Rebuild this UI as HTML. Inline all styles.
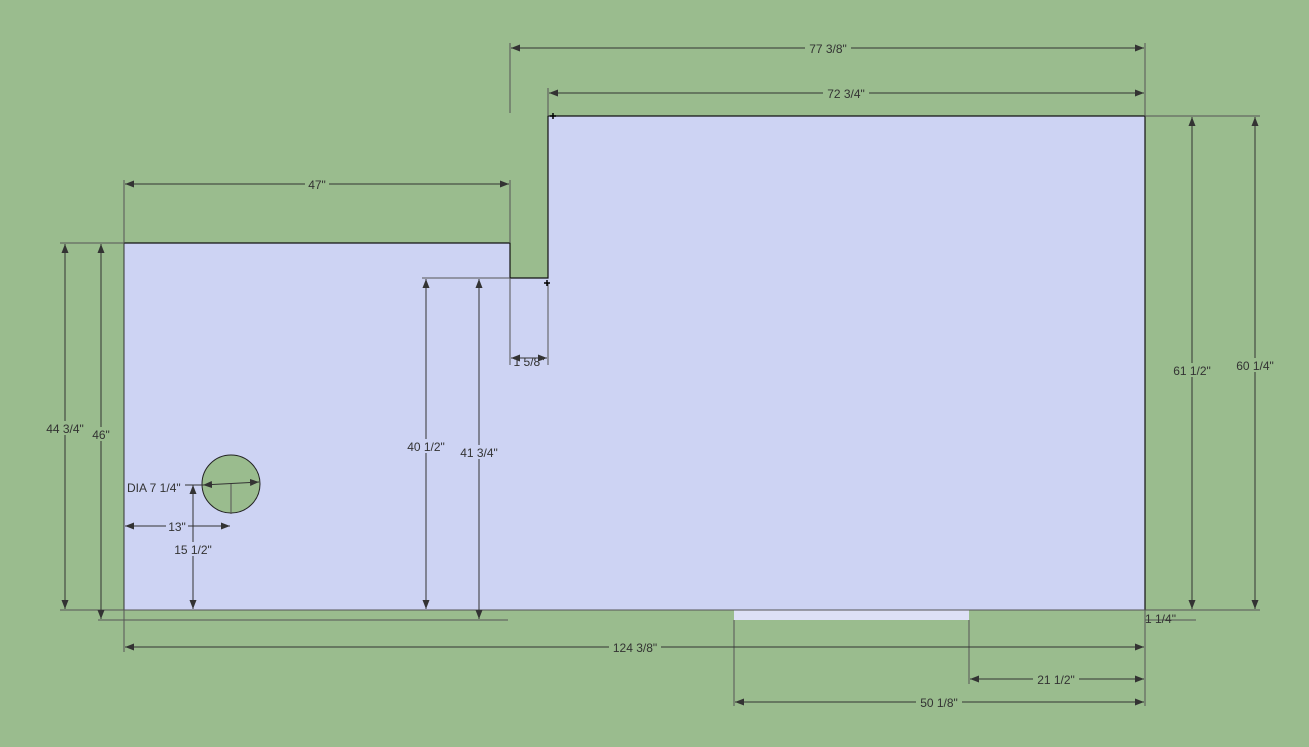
<html><body style="margin:0;background:#9abc8e">
<svg width="1309" height="747" xmlns="http://www.w3.org/2000/svg" font-family="Liberation Sans, sans-serif" font-size="12" fill="#333">
<defs>
<marker id="a" markerWidth="10" markerHeight="8" refX="9" refY="4" orient="auto-start-reverse" markerUnits="userSpaceOnUse"><path d="M0,0.5 L9,4 L0,7.5z" fill="#333"/></marker>
</defs>
<rect width="1309" height="747" fill="#9abc8e"/>
<polygon points="124,243 510,243 510,278 548,278 548,116 1145,116 1145,610 969,610 969,620 734,620 734,610 124,610" fill="#cdd3f3" stroke="none"/>
<rect x="734" y="610" width="235" height="10" fill="#dde0f6"/>
<polyline points="124,243 510,243 510,278 548,278 548,116 1145,116 1145,610" fill="none" stroke="#111" stroke-width="1.2"/>
<line x1="124" y1="243" x2="124" y2="610" stroke="#333"/>
<circle cx="231" cy="484" r="29" fill="#9abc8e" stroke="#222"/>
<g stroke="#555" stroke-width="1" fill="none">
<!-- extension lines -->
<line x1="510" y1="43" x2="510" y2="113"/><line x1="1145" y1="43" x2="1145" y2="116"/>
<line x1="548" y1="88" x2="548" y2="116"/>
<line x1="124" y1="180" x2="124" y2="243"/><line x1="510" y1="180" x2="510" y2="243"/>
<line x1="60" y1="243" x2="124" y2="243"/>
<line x1="60" y1="610" x2="1260" y2="610"/>
<line x1="98" y1="620" x2="508" y2="620"/>
<line x1="1145" y1="620" x2="1196" y2="620"/>
<line x1="422" y1="278" x2="510" y2="278"/>
<line x1="1145" y1="116" x2="1260" y2="116"/>
<line x1="510" y1="278" x2="510" y2="365"/><line x1="548" y1="283" x2="548" y2="365"/>
<line x1="124" y1="610" x2="124" y2="652"/><line x1="1145" y1="610" x2="1145" y2="706"/>
<line x1="734" y1="620" x2="734" y2="706"/><line x1="969" y1="620" x2="969" y2="684"/>
<line x1="231" y1="484" x2="231" y2="514"/>
</g>
<g stroke="#333" stroke-width="1" marker-start="url(#a)" marker-end="url(#a)">
<line x1="511" y1="48" x2="1144" y2="48"/>
<line x1="549" y1="93" x2="1144" y2="93"/>
<line x1="125" y1="184" x2="509" y2="184"/>
<line x1="65" y1="244" x2="65" y2="609"/>
<line x1="101" y1="244" x2="101" y2="619"/>
<line x1="426" y1="279" x2="426" y2="609"/>
<line x1="479" y1="279" x2="479" y2="619"/>
<line x1="1192" y1="117" x2="1192" y2="609"/>
<line x1="1255" y1="117" x2="1255" y2="609"/>
<line x1="125" y1="647" x2="1144" y2="647"/>
<line x1="970" y1="679" x2="1144" y2="679"/>
<line x1="735" y1="702" x2="1144" y2="702"/>
<line x1="125" y1="526" x2="230" y2="526"/>
<line x1="193" y1="485" x2="193" y2="609"/>
<line x1="203" y1="485" x2="259" y2="482"/>
<line x1="511" y1="358" x2="547" y2="358"/>
</g>
<line x1="185" y1="485" x2="203" y2="485" stroke="#333"/>
<g stroke="none">
<rect x="805" y="42" width="46" height="13" fill="#9abc8e"/><text x="828" y="53" text-anchor="middle">77 3/8"</text>
<rect x="823" y="87" width="46" height="13" fill="#9abc8e"/><text x="846" y="98" text-anchor="middle">72 3/4"</text>
<rect x="305" y="178" width="24" height="13" fill="#9abc8e"/><text x="317" y="189" text-anchor="middle">47"</text>
<rect x="42" y="421" width="46" height="14" fill="#9abc8e"/><text x="65" y="433" text-anchor="middle">44 3/4"</text>
<rect x="90" y="427" width="24" height="14" fill="#9abc8e"/><text x="101" y="439" text-anchor="middle">46"</text>
<rect x="403" y="439" width="46" height="14" fill="#cdd3f3"/><text x="426" y="451" text-anchor="middle">40 1/2"</text>
<rect x="456" y="445" width="46" height="14" fill="#cdd3f3"/><text x="479" y="457" text-anchor="middle">41 3/4"</text>
<rect x="1169" y="363" width="46" height="14" fill="#9abc8e"/><text x="1192" y="375" text-anchor="middle">61 1/2"</text>
<rect x="1232" y="358" width="46" height="14" fill="#9abc8e"/><text x="1255" y="370" text-anchor="middle">60 1/4"</text>
<rect x="609" y="641" width="52" height="13" fill="#9abc8e"/><text x="635" y="652" text-anchor="middle">124 3/8"</text>
<rect x="1033" y="673" width="46" height="13" fill="#9abc8e"/><text x="1056" y="684" text-anchor="middle">21 1/2"</text>
<rect x="916" y="696" width="46" height="13" fill="#9abc8e"/><text x="939" y="707" text-anchor="middle">50 1/8"</text>
<rect x="166" y="520" width="22" height="13" fill="#cdd3f3"/><text x="177" y="531" text-anchor="middle">13"</text>
<rect x="170" y="542" width="46" height="14" fill="#cdd3f3"/><text x="193" y="554" text-anchor="middle">15 1/2"</text>
<text x="127" y="492">DIA 7 1/4"</text>
<text x="529" y="366" text-anchor="middle">1 5/8"</text>
<text x="1145" y="623">1 1/4"</text>
</g>
<g stroke="#000" stroke-width="1.5"><line x1="550" y1="116" x2="556" y2="116"/><line x1="553" y1="113" x2="553" y2="119"/>
<line x1="544" y1="283" x2="550" y2="283"/><line x1="547" y1="280" x2="547" y2="286"/></g>
</svg>
</body></html>
